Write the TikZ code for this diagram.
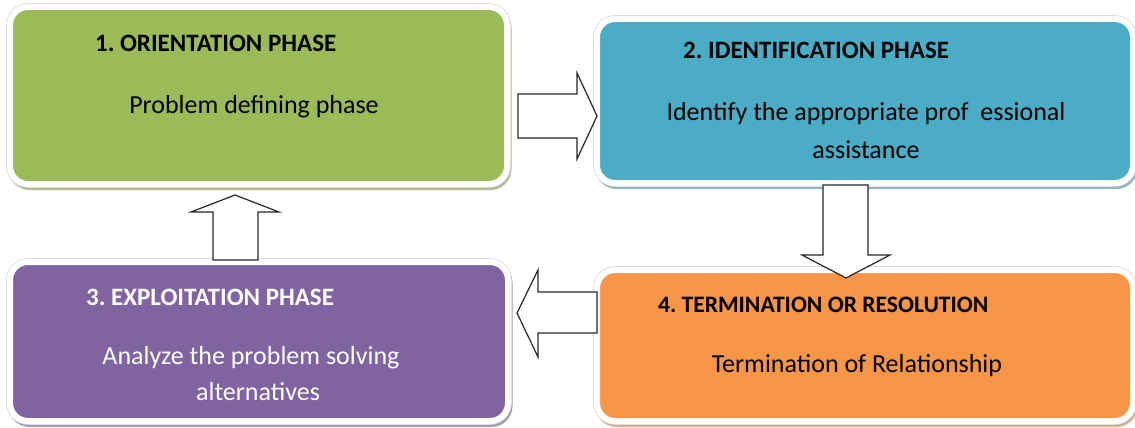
\documentclass[tikz,border=0pt]{standalone}
\usepackage{fontspec}
\setmainfont{Carlito}
\usetikzlibrary{calc}

\definecolor{phasegreen}{HTML}{9BBB59}
\definecolor{phaseblue}{HTML}{4BACC6}
\definecolor{phasepurple}{HTML}{8064A2}
\definecolor{phaseorange}{HTML}{F79646}

\tikzset{
  phasebox/.style={
    rounded corners=18pt, inner sep=0pt, draw=white, line width=6pt,
    preaction={draw=#1!55!gray, fill=#1!55!gray, line width=6pt, opacity=0.7,
               transform canvas={shift={(1.5pt,-3pt)}}},
    preaction={draw=gray!30, line width=7.6pt},
    fill=#1},
  titletext/.style={font=\fontsize{25}{30}\selectfont\bfseries, anchor=base west, inner sep=0pt},
  bodytext/.style={font=\fontsize{26}{38}\selectfont, anchor=base, inner sep=0pt},
  blockarrow/.style={draw=black!85, line width=1.2pt, fill=white, line join=miter}
}

\begin{document}
\begin{tikzpicture}[x=1pt, y=-1pt]
\useasboundingbox (0,0) rectangle (1135,428);

% the four phase boxes
\node[phasebox=phasegreen,  minimum width=497pt, minimum height=177pt] (orient) at (258.5,95.5) {};
\node[phasebox=phaseblue,   minimum width=536pt, minimum height=164pt] (ident)  at (865,101) {};
\node[phasebox=phasepurple, minimum width=498pt, minimum height=159pt] (exploit) at (259,341.5) {};
\node[phasebox=phaseorange, minimum width=536pt, minimum height=151pt] (term)   at (865,345.5) {};

% titles and descriptions
\node[titletext] (t1) at (95,52) {1.\hspace{-2pt} ORIENTATION PHASE};
\node[bodytext] (d1) at (254,113) {Problem defining phase};

\node[titletext] (t2) at (683,59) {2.\hspace{-2pt} IDENTIFICATION PHASE};
\node[bodytext] (d2a) at (866,120) {Identify the appropriate prof\ \ essional};
\node[bodytext] (d2b) at (866,158) {assistance};

\node[titletext, text=white] (t3) at (86,305) {3.\hspace{-2pt} EXPLOITATION PHASE};
\node[bodytext, text=white] (d3a) at (251,364) {Analyze the problem solving};
\node[bodytext, text=white] (d3b) at (258,400) {alternatives};

\node[titletext, font=\fontsize{23.6}{28}\selectfont\bfseries] (t4) at (658,312) {4.\hspace{-2pt} TERMINATION OR RESOLUTION};
\node[bodytext] (d4) at (857,372) {Termination of Relationship};

% block arrows between the phases
% orientation -> identification
\draw[blockarrow] (518,94) -- (577,94) -- (577,73) -- (597,116) -- (577,159) -- (577,138) -- (518,138) -- cycle;
% identification -> termination
\draw[blockarrow] (823,185) -- (868,185) -- (868,255) -- (890,255) -- (846,278) -- (802,255) -- (823,255) -- cycle;
% termination -> exploitation
\draw[blockarrow] (597,292) -- (538,292) -- (538,270) -- (517,313) -- (538,357) -- (538,333) -- (597,333) -- cycle;
% exploitation -> orientation
\draw[blockarrow] (213,260) -- (213,212) -- (191,212) -- (235,195) -- (279,212) -- (258,212) -- (258,260) -- cycle;
\end{tikzpicture}
\end{document}
